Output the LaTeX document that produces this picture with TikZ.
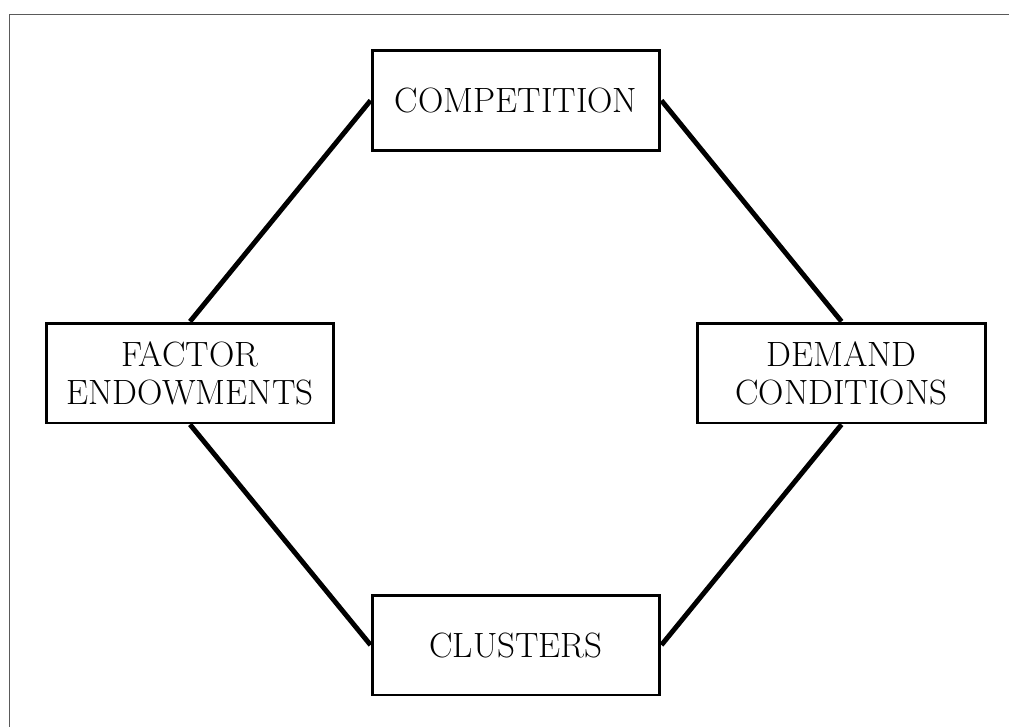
\documentclass[tikz,border=0pt]{standalone}
\usepackage{tikz}
\usetikzlibrary{positioning}
\definecolor{framegray}{HTML}{5A5A5A}
\tikzset{every node/.style={font=\fontsize{20}{21.5}\selectfont},factor/.style={draw,line width=1.7pt,minimum width=5.76cm,minimum height=2cm,align=center,inner sep=0pt},link/.style={line width=2.8pt}}

\begin{document}
\begin{tikzpicture}[x=0.02cm,y=-0.02cm]
\useasboundingbox (0,0) rectangle (1009,727);
\draw[framegray,line width=1.1pt] (9.5,727)--(9.5,14.5)--(1009,14.5);
% the four boxes of the diamond
\node[factor] (comp) at (516,100.5) {COMPETITION};
\node[factor] (fact) at (190,373) {FACTOR\\ENDOWMENTS};
\node[factor] (dem) at (841.5,373) {DEMAND\\CONDITIONS};
\node[factor] (clus) at (516,645) {CLUSTERS};
\draw[link] (comp.west)--(fact.north);\draw[link] (comp.east)--(dem.north);
\draw[link] (fact.south)--(clus.west);\draw[link] (dem.south)--(clus.east);
\end{tikzpicture}
\end{document}
